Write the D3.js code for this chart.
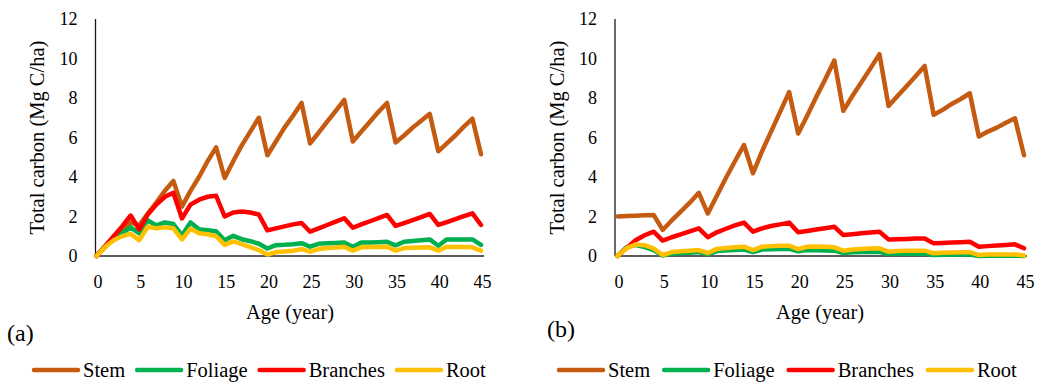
<!DOCTYPE html>
<html>
<head>
<meta charset="utf-8">
<script src="https://cdn.jsdelivr.net/npm/d3@7/dist/d3.min.js"></script>
<style>
    html, body { margin: 0; padding: 0; background: #fff; }
    svg text { font-family: "Liberation Serif", "Times New Roman", serif; fill: #000; }
</style>
</head>
<body>
<div id="viz"></div>
<script>
//Datos del gráfico
const years = [0,1,2,3,4,5,6,7,8,9,10,11,12,13,14,15,16,17,18,19,20,21,22,23,24,25,26,27,28,29,30,31,32,33,34,35,36,37,38,39,40,41,42,43,44,45];
const xTicks = [0,5,10,15,20,25,30,35,40,45];
const yTicks = [0,2,4,6,8,10,12];
const seriesNames = ['Stem','Foliage','Branches','Root'];

//Panel (a)
const stemA = [0,0.45,0.9,1.3,1.7,1.55,2.15,2.7,3.3,3.8,2.5,3.3,4.0,4.8,5.5,3.95,4.8,5.6,6.3,7.0,5.1,5.8,6.5,7.1,7.75,5.7,6.25,6.8,7.35,7.9,5.8,6.3,6.8,7.3,7.75,5.75,6.1,6.5,6.85,7.2,5.3,5.7,6.1,6.55,6.95,5.15];
const foliageA = [0,0.5,0.85,1.15,1.45,1.15,1.8,1.55,1.7,1.62,1.05,1.7,1.35,1.3,1.25,0.8,1.02,0.85,0.75,0.62,0.38,0.55,0.57,0.6,0.65,0.47,0.62,0.64,0.66,0.68,0.47,0.68,0.68,0.7,0.72,0.54,0.72,0.76,0.8,0.84,0.52,0.84,0.84,0.84,0.84,0.56];
const branchesA = [0,0.5,1.0,1.5,2.05,1.35,2.1,2.6,3.0,3.2,1.9,2.6,2.85,3.0,3.05,2.0,2.2,2.25,2.2,2.1,1.3,1.4,1.5,1.6,1.67,1.23,1.4,1.57,1.74,1.91,1.43,1.6,1.76,1.92,2.08,1.52,1.67,1.82,1.97,2.13,1.57,1.72,1.87,2.02,2.16,1.57];
const rootA = [0,0.45,0.8,1.0,1.12,0.8,1.48,1.4,1.45,1.4,0.84,1.38,1.15,1.1,1.0,0.56,0.74,0.6,0.45,0.3,0.07,0.2,0.23,0.27,0.35,0.22,0.35,0.4,0.43,0.47,0.27,0.44,0.45,0.46,0.47,0.27,0.4,0.42,0.43,0.44,0.27,0.47,0.46,0.45,0.44,0.27];

//Panel (b)
const stemB = [2.0,2.02,2.04,2.06,2.08,1.32,1.8,2.25,2.7,3.2,2.15,3.05,3.95,4.8,5.62,4.19,5.3,6.3,7.3,8.3,6.2,7.1,8.05,8.95,9.9,7.35,8.1,8.8,9.5,10.22,7.6,8.1,8.6,9.1,9.62,7.15,7.4,7.7,7.95,8.24,6.05,6.3,6.5,6.75,6.97,5.1];
const foliageB = [0,0.45,0.55,0.45,0.3,0.02,0.12,0.15,0.17,0.2,0.08,0.25,0.28,0.3,0.33,0.2,0.33,0.34,0.35,0.36,0.24,0.3,0.29,0.28,0.27,0.15,0.19,0.2,0.2,0.21,0.1,0.12,0.12,0.12,0.12,0.05,0.06,0.06,0.07,0.07,0.0,0.01,0.01,0.01,0.01,0.0];
const branchesB = [0,0.4,0.8,1.05,1.23,0.78,0.95,1.1,1.25,1.4,0.95,1.2,1.38,1.55,1.69,1.23,1.4,1.52,1.6,1.69,1.2,1.27,1.34,1.41,1.48,1.06,1.1,1.15,1.19,1.23,0.84,0.85,0.86,0.88,0.89,0.64,0.66,0.68,0.7,0.72,0.47,0.5,0.53,0.56,0.59,0.39];
const rootB = [0,0.4,0.58,0.55,0.38,0.05,0.2,0.24,0.27,0.3,0.15,0.36,0.4,0.44,0.47,0.3,0.47,0.5,0.52,0.52,0.35,0.47,0.48,0.47,0.44,0.27,0.33,0.36,0.38,0.39,0.22,0.25,0.26,0.27,0.27,0.14,0.17,0.18,0.19,0.2,0.05,0.07,0.08,0.08,0.08,0.02];

//Colores fijos
const COLOR_STEM = '#C55A11',
COLOR_FOLIAGE = '#00B050',
COLOR_BRANCHES = '#FF0000',
COLOR_ROOT = '#FFC000';
const colors = [COLOR_STEM, COLOR_FOLIAGE, COLOR_BRANCHES, COLOR_ROOT];

const panels = [
    { label: '(a)', series: [stemA, foliageA, branchesA, rootA], x0: 96.5, x1: 481, axisX: 95.5, xEnd: 484, titleX: 37, ageX: 290, tagX: 7, tagY: 341, legendX: 32, legendGap: 10 },
    { label: '(b)', series: [stemB, foliageB, branchesB, rootB], x0: 617.5, x1: 1024, axisX: 615, xEnd: 1027, titleX: 557, ageX: 820, tagX: 547, tagY: 337, legendX: 557, legendGap: 12 }
];

let svg = d3.select('#viz')
    .append('svg')
    .attr('width', 1039)
    .attr('height', 382);

let y = d3.scaleLinear()
    .domain([0, 12])
    .range([256, 19]);

panels.forEach(function(p) {
    let g = svg.append('g');

    let x = d3.scaleLinear()
        .domain([0, 45])
        .range([p.x0, p.x1]);

    //Eje Y
    g.append('line')
        .attr('x1', p.axisX).attr('x2', p.axisX)
        .attr('y1', y(12)).attr('y2', y(0))
        .attr('stroke', '#1a1a1a')
        .attr('stroke-width', 1.3);

    g.selectAll('.ytick')
        .data(yTicks)
        .enter()
        .append('text')
        .attr('class', 'ytick')
        .attr('x', p.axisX - 18)
        .attr('y', function(d) { return y(d); })
        .attr('dy', '0.35em')
        .attr('text-anchor', 'end')
        .style('font-size', '18px')
        .text(function(d) { return d; });

    //Eje X
    g.append('line')
        .attr('x1', p.axisX).attr('x2', p.xEnd)
        .attr('y1', y(0)).attr('y2', y(0))
        .attr('stroke', '#262626')
        .attr('stroke-width', 1.3);

    g.selectAll('.xtick')
        .data(xTicks)
        .enter()
        .append('text')
        .attr('class', 'xtick')
        .attr('x', function(d) { return x(d) + 1.5; })
        .attr('y', 282)
        .attr('dy', '0.35em')
        .attr('text-anchor', 'middle')
        .style('font-size', '18px')
        .text(function(d) { return d; });

    //Títulos
    g.append('text')
        .attr('transform', 'translate(' + p.titleX + ',137.5) rotate(-90)')
        .attr('dy', '0.35em')
        .attr('text-anchor', 'middle')
        .style('font-size', '20.5px')
        .text('Total carbon (Mg C/ha)');

    g.append('text')
        .attr('x', p.ageX)
        .attr('y', 312)
        .attr('dy', '0.35em')
        .attr('text-anchor', 'middle')
        .style('font-size', '20.5px')
        .text('Age (year)');

    g.append('text')
        .attr('x', p.tagX)
        .attr('y', p.tagY)
        .style('font-size', '24px')
        .text(p.label);

    //Líneas
    let line = d3.line()
        .x(function(d, i) { return x(years[i]); })
        .y(function(d) { return y(d); });

    g.selectAll('.serie')
        .data(p.series)
        .enter()
        .append('path')
        .attr('class', 'serie')
        .attr('d', line)
        .attr('fill', 'none')
        .attr('stroke', function(d, i) { return colors[i]; })
        .attr('stroke-width', 4.5)
        .attr('stroke-linejoin', 'round')
        .attr('stroke-linecap', 'round');

    //Leyenda
    let lx = p.legendX;
    seriesNames.forEach(function(name, i) {
        g.append('line')
            .attr('x1', lx + 2).attr('x2', lx + 46)
            .attr('y1', 370).attr('y2', 370)
            .attr('stroke', colors[i])
            .attr('stroke-width', 4.5)
            .attr('stroke-linecap', 'round');
        let t = g.append('text')
            .attr('x', lx + 51)
            .attr('y', 370)
            .attr('dy', '0.35em')
            .style('font-size', '20.5px')
            .text(name);
        lx = lx + 51 + t.node().getComputedTextLength() + p.legendGap;
    });
});
</script>
</body>
</html>
